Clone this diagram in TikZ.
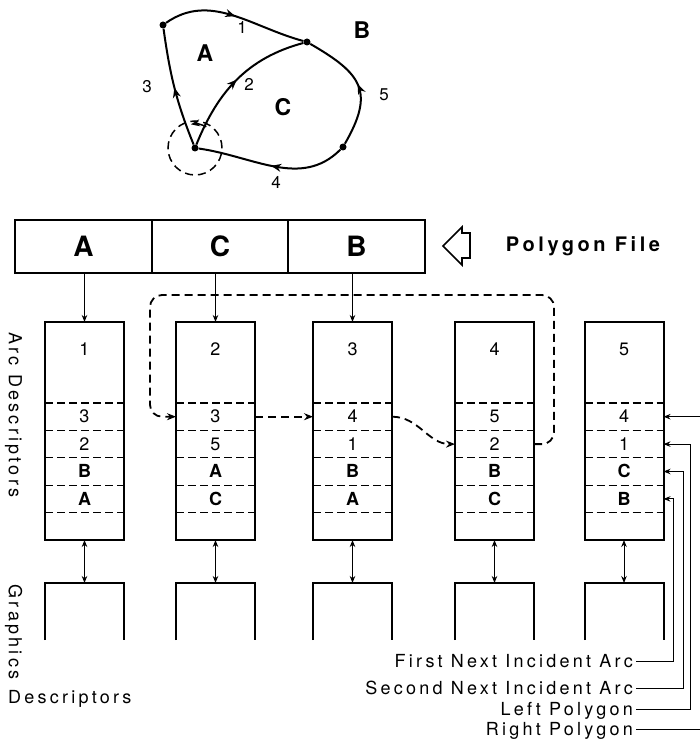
\documentclass[tikz,border=0pt]{standalone}
\usepackage{fontspec}
\setmainfont{TeX Gyre Heros}[LetterSpace=18]
\usetikzlibrary{arrows.meta,positioning,decorations.markings}

\begin{document}
\begin{tikzpicture}[x=1pt,y=1pt,
  frame/.style={draw,line width=2pt,inner sep=0pt,outer sep=0pt},
  cell/.style={minimum width=79pt,minimum height=27.4pt,inner sep=0pt,outer sep=0pt,
    text height=12.5pt,text depth=0pt,font=\fontsize{18}{18}\selectfont},
  sep/.style={line width=1.3pt,dash pattern=on 8pt off 4pt},
  row/.style={cell,append after command={(\tikzlastnode.north west) edge[sep] (\tikzlastnode.north east)}},
  gbox/.style={minimum width=79pt,minimum height=57pt,inner sep=0pt,outer sep=0pt},
  arr/.style={line width=1pt,-{Stealth[length=7pt,width=5.5pt]}},
  dbl/.style={line width=1pt,{Stealth[length=7pt,width=5.5pt]}-{Stealth[length=7pt,width=5.5pt]}},
  link/.style={line width=1.8pt,dash pattern=on 8pt off 5pt,-{Stealth[length=9pt,width=7pt]}},
  arc/.style={line width=2pt},
  midarr/.style={postaction={decorate},decoration={markings,
    mark=at position #1 with {\arrow{Stealth[length=10pt,width=8pt]}}}},
  midarr/.default=0.5,
  dot/.style={circle,fill,inner sep=0pt,minimum size=7pt},
  gl/.style={font=\bfseries\fontsize{23}{23}\selectfont},
  nl/.style={font=\fontsize{17}{17}\selectfont},
  big/.style={font=\bfseries\fontsize{28}{28}\selectfont},
  lbl/.style={font=\fontsize{18}{18}\selectfont,text height=12pt,text depth=0pt,inner sep=3pt}]
\useasboundingbox (0,0) rectangle (699,-746);

% the arc/node graph
\node[dot] (v1) at (163,-25) {};
\node[dot] (v2) at (307,-42) {};
\node[dot] (v3) at (343,-147) {};
\node[dot] (v4) at (195,-148) {};
\draw[arc,midarr] (v1) to[out=35,in=165] (v2);
\draw[arc,midarr] (v4) to[out=68,in=195] (v2);
\draw[arc,midarr] (v4) to[out=112,in=-82] (v1);
\draw[arc,midarr] (v3) to[out=-135,in=-8] (v4);
\draw[arc,midarr] (v3) to[out=60,in=-30,looseness=1.45] (v2);
\draw[line width=1.5pt,dash pattern=on 8pt off 5pt] (v4.center) circle (27pt);
\draw[line width=1.5pt,-{Stealth[length=9pt,width=7pt]}] ([shift={(62:24)}]v4.center) arc (62:100:24);
\node[gl] (la) at (205,-53) {A};
\node[gl] (lc) at (283,-107) {C};
\node[gl] (lb) at (362,-30) {B};
\node[nl] (n1) at (242,-27) {1};
\node[nl] (n2) at (249,-84) {2};
\node[nl] (n3) at (147,-87) {3};
\node[nl] (n4) at (276,-182) {4};
\node[nl] (n5) at (384,-95) {5};

% polygon file
\node[frame,big,minimum width=137pt,minimum height=53pt] (p1) at (83.5,-246.5) {A};
\node[frame,big,minimum width=136pt,minimum height=53pt,right=0pt of p1] (p2) {C};
\node[frame,big,minimum width=137pt,minimum height=53pt,right=0pt of p2] (p3) {B};
\draw[line width=1.6pt] (443,-246) -- (462,-227) -- (462,-233) -- (470,-233)
  -- (470,-258) -- (462,-258) -- (462,-265) -- cycle;
\node[font=\bfseries\fontsize{20}{20}\selectfont] (pf) at (583,-246) {Polygon File};

% arc descriptors
\node[frame,minimum width=79pt,minimum height=218pt,anchor=north] (a1) at (84.5,-322) {};
\node[cell] (a1n) at ([yshift=-27pt]a1.north) {1};
\node[row,anchor=north] (a1r1) at ([yshift=-81pt]a1.north) {3};
\node[row,below=0pt of a1r1] (a1r2) {2};
\node[row,below=0pt of a1r2] (a1r3) {\bfseries B};
\node[row,below=0pt of a1r3] (a1r4) {\bfseries A};
\node[row,below=0pt of a1r4] (a1r5) {};

\node[frame,minimum width=79pt,minimum height=218pt,anchor=north] (a2) at (215.5,-322) {};
\node[cell] (a2n) at ([yshift=-27pt]a2.north) {2};
\node[row,anchor=north] (a2r1) at ([yshift=-81pt]a2.north) {3};
\node[row,below=0pt of a2r1] (a2r2) {5};
\node[row,below=0pt of a2r2] (a2r3) {\bfseries A};
\node[row,below=0pt of a2r3] (a2r4) {\bfseries C};
\node[row,below=0pt of a2r4] (a2r5) {};

\node[frame,minimum width=79pt,minimum height=218pt,anchor=north] (a3) at (352.5,-322) {};
\node[cell] (a3n) at ([yshift=-27pt]a3.north) {3};
\node[row,anchor=north] (a3r1) at ([yshift=-81pt]a3.north) {4};
\node[row,below=0pt of a3r1] (a3r2) {1};
\node[row,below=0pt of a3r2] (a3r3) {\bfseries B};
\node[row,below=0pt of a3r3] (a3r4) {\bfseries A};
\node[row,below=0pt of a3r4] (a3r5) {};

\node[frame,minimum width=79pt,minimum height=218pt,anchor=north] (a4) at (494.5,-322) {};
\node[cell] (a4n) at ([yshift=-27pt]a4.north) {4};
\node[row,anchor=north] (a4r1) at ([yshift=-81pt]a4.north) {5};
\node[row,below=0pt of a4r1] (a4r2) {2};
\node[row,below=0pt of a4r2] (a4r3) {\bfseries B};
\node[row,below=0pt of a4r3] (a4r4) {\bfseries C};
\node[row,below=0pt of a4r4] (a4r5) {};

\node[frame,minimum width=79pt,minimum height=218pt,anchor=north] (a5) at (624,-322) {};
\node[cell] (a5n) at ([yshift=-27pt]a5.north) {5};
\node[row,anchor=north] (a5r1) at ([yshift=-81pt]a5.north) {4};
\node[row,below=0pt of a5r1] (a5r2) {1};
\node[row,below=0pt of a5r2] (a5r3) {\bfseries C};
\node[row,below=0pt of a5r3] (a5r4) {\bfseries B};
\node[row,below=0pt of a5r4] (a5r5) {};

\draw[arr] (a1.north |- p1.south) -- (a1);
\draw[arr] (a2.north |- p2.south) -- (a2);
\draw[arr] (a3.north |- p3.south) -- (a3);

% dashed chain of incident arcs
\draw[link,rounded corners=12pt] (a4r2.east) -- ++(20,0) |- (150,-295) |- (a2r1.west);
\draw[link] (a2r1) -- (a3r1);
\draw[link] (a3r1.east) to[out=0,in=180] (a4r2.west);

% graphics descriptors
\node[gbox,below=43pt of a1] (g1) {};
\node[gbox,below=43pt of a2] (g2) {};
\node[gbox,below=43pt of a3] (g3) {};
\node[gbox,below=43pt of a4] (g4) {};
\node[gbox,below=43pt of a5] (g5) {};
\draw[frame] (g1.south west) -- (g1.north west) -- (g1.north east) -- (g1.south east);
\draw[frame] (g2.south west) -- (g2.north west) -- (g2.north east) -- (g2.south east);
\draw[frame] (g3.south west) -- (g3.north west) -- (g3.north east) -- (g3.south east);
\draw[frame] (g4.south west) -- (g4.north west) -- (g4.north east) -- (g4.south east);
\draw[frame] (g5.south west) -- (g5.north west) -- (g5.north east) -- (g5.south east);
\draw[dbl] (a1) -- (g1);
\draw[dbl] (a2) -- (g2);
\draw[dbl] (a3) -- (g3);
\draw[dbl] (a4) -- (g4);
\draw[dbl] (a5) -- (g5);

% side and field labels
\node[lbl,rotate=-90] (arcd) at (15,-415) {Arc Descriptors};
\node[lbl,rotate=-90] (grd) at (15,-632) {Graphics};
\node[lbl,anchor=west] (desc) at (5,-697) {Descriptors};
\node[lbl,anchor=east] (fn) at (636,-661) {First Next Incident Arc};
\node[lbl,anchor=east] (sn) at (636,-688) {Second Next Incident Arc};
\node[lbl,anchor=east] (lp) at (636,-709) {Left Polygon};
\node[lbl,anchor=east] (rp) at (636,-729) {Right Polygon};
\draw[arr] (fn.east) -| ([xshift=10pt]a5r4.east) -- (a5r4.east);
\draw[arr] (sn.east) -| ([xshift=20pt]a5r3.east) -- (a5r3.east);
\draw[arr] (lp.east) -| ([xshift=27pt]a5r2.east) -- (a5r2.east);
\draw[arr] (rp.east) -| ([xshift=43pt]a5r1.east) -- (a5r1.east);
\end{tikzpicture}
\end{document}
